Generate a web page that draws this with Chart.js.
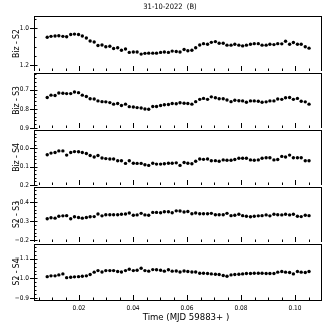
<!DOCTYPE html>
<html><head><meta charset="utf-8">
<script src="https://cdn.jsdelivr.net/npm/chart.js@4/dist/chart.umd.min.js"></script>
<style>
html,body{margin:0;padding:0;background:#fff;}
#wrap{position:relative;width:327px;height:327px;overflow:hidden;background:#fff;}
#wrap canvas{position:absolute;left:0;}
</style></head><body><div id="wrap"></div>
<script>
// ---- data ----
const times = [0.0082,0.0096,0.0111,0.0125,0.0140,0.0154,0.0169,0.0183,0.0198,0.0212,
0.0227,0.0241,0.0256,0.0270,0.0285,0.0299,0.0314,0.0328,0.0343,0.0357,
0.0372,0.0386,0.0401,0.0415,0.0430,0.0444,0.0458,0.0473,0.0487,0.0502,
0.0516,0.0531,0.0545,0.0560,0.0574,0.0589,0.0603,0.0618,0.0632,0.0647,
0.0661,0.0676,0.0690,0.0705,0.0719,0.0734,0.0748,0.0763,0.0777,0.0792,
0.0806,0.0820,0.0835,0.0849,0.0864,0.0878,0.0893,0.0907,0.0922,0.0936,
0.0951,0.0965,0.0980,0.0994,0.1009,0.1023,0.1038,0.1052];

const bizS2 = [1.049,1.044,1.042,1.041,1.044,1.046,1.034,1.032,1.034,1.042,
1.053,1.069,1.074,1.093,1.090,1.100,1.097,1.109,1.105,1.118,
1.112,1.130,1.128,1.128,1.139,1.135,1.134,1.134,1.134,1.130,
1.128,1.130,1.123,1.125,1.128,1.114,1.121,1.118,1.105,1.090,
1.083,1.086,1.076,1.072,1.081,1.081,1.091,1.091,1.086,1.091,
1.095,1.091,1.086,1.083,1.083,1.091,1.091,1.086,1.088,1.083,
1.084,1.070,1.086,1.077,1.086,1.086,1.100,1.107];

const bizS3 = [0.740,0.728,0.730,0.717,0.718,0.720,0.720,0.712,0.715,0.728,
0.735,0.747,0.748,0.758,0.762,0.763,0.767,0.775,0.772,0.782,
0.775,0.788,0.790,0.793,0.795,0.800,0.802,0.787,0.787,0.782,
0.778,0.777,0.772,0.773,0.768,0.770,0.772,0.775,0.762,0.750,
0.745,0.750,0.737,0.742,0.747,0.747,0.753,0.762,0.755,0.757,
0.758,0.765,0.758,0.758,0.760,0.765,0.763,0.758,0.758,0.748,
0.750,0.742,0.740,0.750,0.745,0.760,0.763,0.775];

const bizS4 = [0.035,0.026,0.023,0.014,0.014,0.037,0.023,0.018,0.019,0.023,
0.028,0.039,0.047,0.039,0.053,0.056,0.058,0.058,0.068,0.068,
0.082,0.068,0.081,0.082,0.082,0.089,0.093,0.081,0.086,0.086,
0.084,0.081,0.081,0.079,0.093,0.077,0.081,0.084,0.070,0.058,
0.060,0.058,0.068,0.067,0.070,0.063,0.065,0.065,0.061,0.054,
0.054,0.054,0.063,0.065,0.063,0.054,0.051,0.051,0.063,0.061,
0.044,0.047,0.037,0.051,0.051,0.051,0.068,0.068];

const s2S3 = [-0.312,-0.317,-0.315,-0.325,-0.327,-0.328,-0.312,-0.322,-0.318,-0.315,
-0.318,-0.322,-0.323,-0.337,-0.327,-0.333,-0.333,-0.333,-0.333,-0.335,
-0.337,-0.342,-0.330,-0.332,-0.340,-0.332,-0.330,-0.345,-0.345,-0.343,
-0.348,-0.348,-0.343,-0.353,-0.352,-0.347,-0.350,-0.338,-0.342,-0.338,
-0.338,-0.338,-0.340,-0.333,-0.333,-0.333,-0.340,-0.328,-0.330,-0.335,
-0.328,-0.325,-0.322,-0.325,-0.327,-0.328,-0.332,-0.327,-0.335,-0.333,
-0.332,-0.335,-0.332,-0.335,-0.325,-0.323,-0.330,-0.328];

const s2S4 = [-1.009,-1.013,-1.013,-1.018,-1.023,-1.004,-1.006,-1.008,-1.009,-1.011,
-1.013,-1.020,-1.032,-1.040,-1.033,-1.040,-1.040,-1.040,-1.035,-1.033,
-1.040,-1.047,-1.040,-1.042,-1.052,-1.040,-1.037,-1.045,-1.044,-1.042,
-1.037,-1.044,-1.037,-1.038,-1.033,-1.038,-1.035,-1.033,-1.033,-1.026,
-1.026,-1.025,-1.023,-1.021,-1.020,-1.015,-1.011,-1.018,-1.020,-1.021,
-1.023,-1.025,-1.025,-1.026,-1.026,-1.026,-1.025,-1.025,-1.025,-1.032,
-1.035,-1.032,-1.030,-1.023,-1.035,-1.032,-1.030,-1.035];

const panelLabels = ['Biz - S2','Biz - S3','Biz - S4','S2 - S3','S2 - S4'];
const yTicks1 = [1.0, 1.2];
const yTicks2 = [0.7, 0.8, 0.9];
const yTicks3 = [0.0, 0.1, 0.2];
const yTicks4 = [-0.4, -0.3, -0.2];
const yTicks5 = [-1.1, -1.0, -0.9];
const xTicks = [0.02, 0.04, 0.06, 0.08, 0.10];
const titleText = '31-10-2022  (B)';
const xTitleText = 'Time (MJD 59883+ )';

// ---- layout ----
const FONT = '"DejaVu Sans Condensed", "DejaVu Sans", sans-serif';
const bounds = [16, 72, 129, 186, 243, 300];
const panels = [
  {vals: bizS2, ticks: yTicks1, div: 4, min: 0.935, max: 1.23},
  {vals: bizS3, ticks: yTicks2, div: 5, min: 0.612, max: 0.9},
  {vals: bizS4, ticks: yTicks3, div: 5, min: -0.1, max: 0.2},
  {vals: s2S3, ticks: yTicks4, div: 5, min: -0.478, max: -0.19},
  {vals: s2S4, ticks: yTicks5, div: 5, min: -1.176, max: -0.89}
];
const XMIN = 0.0033, XMAX = 0.110;

function fmtY(v){ const s = Number(v).toFixed(1); return s.replace('-', '\u2212'); }

function stepList(majors, div, lo, hi){
  const ms = (majors[1]-majors[0])/div;
  const out = [];
  let v = majors[0] - Math.floor((majors[0]-lo)/ms + 1e-9)*ms;
  for (; v <= hi + 1e-9; v += ms) out.push({v, major: majors.some(t => Math.abs(t - v) < ms/10)});
  return out;
}

const panelDeco = {
  id: 'panelDeco',
  afterDraw(chart, args, o) {
    const {ctx, chartArea: a} = chart;
    const xs = chart.scales.x, ys = chart.scales.y;
    ctx.save();
    ctx.strokeStyle = '#000';
    ctx.lineWidth = 1;
    const L = Math.round(a.left) + 0.5, R = Math.round(a.right) - 0.5;
    const T = Math.round(a.top) + 0.5, B = Math.round(a.bottom);
    const ext = o.last ? 1 : 0;
    ctx.beginPath();
    ctx.moveTo(L, T); ctx.lineTo(R, T);
    ctx.moveTo(L, T - 0.5); ctx.lineTo(L, B + ext);
    ctx.moveTo(R, T - 0.5); ctx.lineTo(R, B + ext);
    if (o.last) { ctx.moveTo(L, B + 0.5); ctx.lineTo(R, B + 0.5); }
    // x ticks (inward, at bottom of panel)
    stepList(xTicks, 4, xs.min, xs.max).forEach(t => {
      const px = Math.round(xs.getPixelForValue(t.v)) + 0.5;
      if (px <= L || px >= R) return;
      ctx.moveTo(px, B); ctx.lineTo(px, B - (t.major ? 5 : 2.5));
    });
    // y ticks
    stepList(o.ticks, o.div, ys.min, ys.max).forEach(t => {
      const py = Math.round(ys.getPixelForValue(t.v)) + 0.5;
      if (py < a.top || py > a.bottom + 1) return;
      if (t.major) { ctx.moveTo(a.left - 4, py); ctx.lineTo(a.left + 3.5, py); }
      else { ctx.moveTo(a.left, py); ctx.lineTo(a.left + 2.5, py); }
    });
    ctx.stroke();
    (o.texts || []).forEach(t => {
      ctx.fillStyle = '#000';
      ctx.font = t.font;
      ctx.textAlign = 'center';
      ctx.textBaseline = 'middle';
      ctx.fillText(t.text, t.x, t.y);
    });
    ctx.restore();
  }
};

const wrap = document.getElementById('wrap');
panels.forEach((p, k) => {
  const last = k === panels.length - 1;
  const top = k === 0 ? 0 : bounds[k] - 8;
  const padTop = bounds[k] - top;
  const height = last ? 327 - top : bounds[k+1] + 8 - top;
  const padBottom = last ? 0 : 8;
  const cv = document.createElement('canvas');
  cv.width = 327; cv.height = height;
  cv.style.top = top + 'px';
  cv.style.width = '327px'; cv.style.height = height + 'px';
  wrap.appendChild(cv);
  const texts = [];
  if (k === 0) texts.push({text: titleText, x: 170, y: 7.5, font: '7.5px ' + FONT});
  if (last) texts.push({text: xTitleText, x: 186, y: 318 - top, font: '9.5px ' + FONT});
  new Chart(cv, {
    type: 'scatter',
    data: {
      datasets: [{
        data: times.map((t, i) => ({x: t, y: p.vals[i]})),
        backgroundColor: '#000',
        borderColor: '#000',
        borderWidth: 0,
        pointRadius: 1.7,
        pointHoverRadius: 1.7
      }]
    },
    options: {
      responsive: false,
      animation: false,
      devicePixelRatio: 1,
      layout: {padding: {top: padTop, bottom: padBottom, left: 0, right: 5}},
      plugins: {
        legend: {display: false},
        tooltip: {enabled: false},
        panelDeco: {last, ticks: p.ticks, div: p.div, texts}
      },
      scales: {
        x: {
          type: 'linear', min: XMIN, max: XMAX,
          display: last,
          afterBuildTicks: s => { s.ticks = xTicks.map(v => ({value: v})); },
          afterFit: s => { if (last) s.height = 27; },
          grid: {display: false, drawTicks: false},
          border: {display: false},
          ticks: {
            callback: v => Number(v).toFixed(2),
            font: {family: FONT, size: 6.5},
            color: '#000', padding: 4, maxRotation: 0, autoSkip: false
          }
        },
        y: {
          type: 'linear', min: p.min, max: p.max, reverse: true,
          afterBuildTicks: s => { s.ticks = p.ticks.map(v => ({value: v})); },
          afterFit: s => { s.width = 34; },
          grid: {display: false, drawTicks: false},
          border: {display: false},
          ticks: {
            callback: v => fmtY(v),
            font: {family: FONT, size: 6.5},
            color: '#000', padding: 5, autoSkip: false
          },
          title: {
            display: true, text: panelLabels[k], color: '#000',
            font: {family: FONT, size: 8.5},
            padding: {top: 12, bottom: 0}
          }
        }
      }
    },
    plugins: [panelDeco]
  });
});
</script>
</body></html>
